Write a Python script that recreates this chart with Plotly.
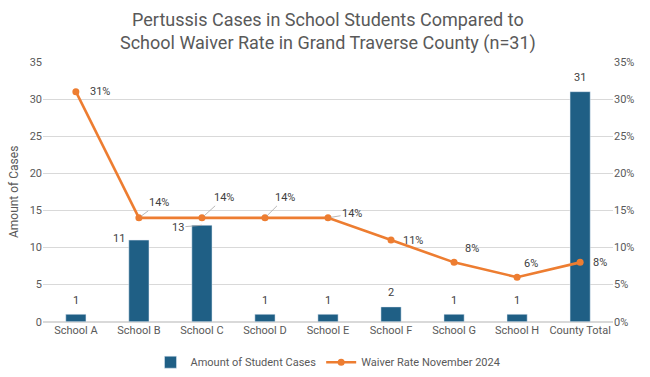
import plotly.graph_objects as go

categories = ["School A", "School B", "School C", "School D", "School E",
              "School F", "School G", "School H", "County Total"]
cases = [1, 11, 13, 1, 1, 2, 1, 1, 31]
waiver_rate = [0.31, 0.14, 0.14, 0.14, 0.14, 0.11, 0.08, 0.06, 0.08]
y_left_ticks = [0, 5, 10, 15, 20, 25, 30, 35]
y_right_ticks = [0, 0.05, 0.10, 0.15, 0.20, 0.25, 0.30, 0.35]
title_text = "Pertussis Cases in School Students Compared to<br>School Waiver Rate in Grand Traverse County (n=31)"

# label offsets (pixels) and whether leader line shown
bar_label_off = [(0, -14), (-20, -2), (-24, 2), (0, -14), (0, -14), (0, -14), (0, -14), (0, -14), (0, -14)]
bar_leader = [False, False, True, False, False, False, False, False, False]
line_label_off = [(24, 0), (20, -15), (22, -20), (20, -20), (24, -4), (22, 0), (18, -14), (14, -14), (20, 0)]
line_leader = [False, True, True, True, True, False, False, False, False]

BAR = "#1F5F85"
ORANGE = "#ED7D31"
GREY = "#595959"
FONT = "Roboto"

fig = go.Figure()
fig.add_trace(go.Bar(x=categories, y=cases, name="Amount of Student Cases",
                     marker_color=BAR, yaxis="y", width=0.32))
fig.add_trace(go.Scatter(x=categories, y=waiver_rate, name="Waiver Rate November 2024",
                         mode="lines+markers", yaxis="y2",
                         line=dict(color=ORANGE, width=2.6),
                         marker=dict(color=ORANGE, size=7)))

annotations = []
for c, v, (ax, ay), ld in zip(categories, cases, bar_label_off, bar_leader):
    annotations.append(dict(x=c, y=v, xref="x", yref="y", text=str(v),
                            showarrow=True, ax=ax, ay=ay, arrowhead=0,
                            arrowwidth=0.8,
                            arrowcolor="#A6A6A6" if ld else "rgba(0,0,0,0)",
                            standoff=0,
                            font=dict(size=11, color="#404040", family=FONT)))
for c, v, (ax, ay), ld in zip(categories, waiver_rate, line_label_off, line_leader):
    annotations.append(dict(x=c, y=v, xref="x", yref="y2", text=f"{round(v*100)}%",
                            showarrow=True, ax=ax, ay=ay, arrowhead=0,
                            arrowwidth=0.8, standoff=3,
                            arrowcolor="#A6A6A6" if ld else "rgba(0,0,0,0)",
                            font=dict(size=11, color="#404040", family=FONT)))
annotations.append(dict(text=title_text, xref="paper", yref="paper", x=0.5, y=1.0,
                        xanchor="center", yanchor="bottom", yshift=6, showarrow=False,
                        align="center",
                        font=dict(size=18, color=GREY, family=FONT)))

fig.update_layout(
    width=650, height=377,
    margin=dict(l=43, r=37, t=62, b=0),
    paper_bgcolor="white", plot_bgcolor="white",
    font=dict(family=FONT, color=GREY, size=11),
    xaxis=dict(showgrid=False, showline=False, ticks="", tickfont=dict(size=11, color=GREY)),
    yaxis=dict(range=[0, 35], tickvals=y_left_ticks, showgrid=True, gridcolor="#D9D9D9",
               domain=[0.14, 1],
               zeroline=True, zerolinecolor="#D9D9D9", ticks="", showline=False,
               title=dict(text="Amount of Cases", font=dict(size=12, color=GREY), standoff=8),
               tickfont=dict(size=11, color=GREY)),
    yaxis2=dict(range=[0, 0.35], tickvals=y_right_ticks, tickformat=".0%", overlaying="y",
                side="right", showgrid=False, zeroline=False, ticks="",
                tickfont=dict(size=11, color=GREY)),
    legend=dict(orientation="h", x=0.5, xanchor="center", y=0.006, yanchor="middle",
                font=dict(size=11, color=GREY), itemwidth=30),
    annotations=annotations,
    bargap=0.68,
)

fig.write_html("out.html")
